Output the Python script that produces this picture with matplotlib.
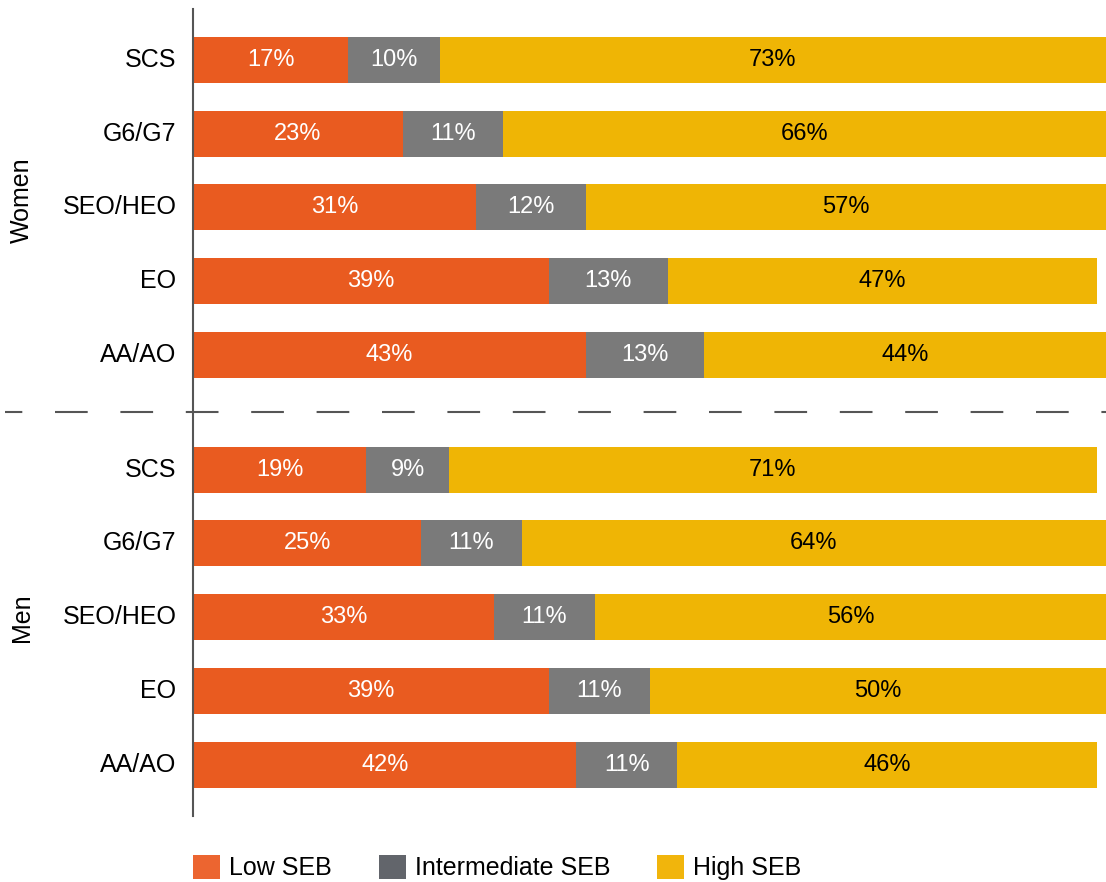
import matplotlib.pyplot as plt
from matplotlib.patches import Patch

plt.rcParams['font.family'] = ['Liberation Sans', 'DejaVu Sans']

# grades, top to bottom within each group
grades = ["SCS", "G6/G7", "SEO/HEO", "EO", "AA/AO"]
groups = ["Women", "Men"]

# share of each grade by socio-economic background (%)
women_low = [17, 23, 31, 39, 43]
women_mid = [10, 11, 12, 13, 13]
women_high = [73, 66, 57, 47, 44]
men_low = [19, 25, 33, 39, 42]
men_mid = [9, 11, 11, 11, 11]
men_high = [71, 64, 56, 50, 46]

series_names = ["Low SEB", "Intermediate SEB", "High SEB"]
bar_colors = ["#E95B20", "#7A7A7A", "#EFB505"]
legend_colors = ["#EC6530", "#62656B", "#F1B50C"]
text_colors = ["white", "white", "black"]

W, H = 1106, 882
fig = plt.figure(figsize=(W / 100, H / 100), dpi=100)
ax = fig.add_axes([193 / W, 1 - 816 / H, 913 / W, (816 - 9) / H])

gap = 5.55
bar_h = 0.623
ypos_w = [i for i in range(len(grades))]
ypos_m = [i + gap for i in range(len(grades))]

rows = [
    (ypos_w, [women_low, women_mid, women_high]),
    (ypos_m, [men_low, men_mid, men_high]),
]

for ypos, parts in rows:
    for r, y in enumerate(ypos):
        left = 0
        for k, vals in enumerate(parts):
            v = vals[r]
            ax.barh(y, v, left=left, height=bar_h, color=bar_colors[k], linewidth=0)
            ax.text(left + v / 2, y, f"{v}%", ha="center", va="center",
                    fontsize=17, color=text_colors[k])
            left += v

ax.set_xlim(0, 100)
ax.set_ylim(ypos_m[-1] + 0.69, -0.687)
ax.set_yticks(ypos_w + ypos_m)
ax.set_yticklabels(grades + grades, fontsize=18, va="center")
ax.tick_params(axis="y", length=0, pad=12)
ax.set_xticks([])
for s in ["top", "right", "bottom"]:
    ax.spines[s].set_visible(False)
ax.spines["left"].set_color("#555555")
ax.spines["left"].set_linewidth(1.5)

# group labels on the far left
ytr = ax.get_yaxis_transform()
ax.text((22 - 193) / 913, 1.9, groups[0], rotation=90, ha="center", va="center",
        fontsize=18, transform=ytr)
ax.text((22 - 193) / 913, 2 + gap, groups[1], rotation=90, ha="center", va="center",
        fontsize=18, transform=ytr)

# dashed separator across the whole width
lw = 1.5
px = 0.72 / lw
sep_y = (4 + gap) / 2
ax.plot([(5 - 193) / 913, 1.0], [sep_y, sep_y], transform=ytr, clip_on=False,
        color="#555555", linewidth=lw,
        linestyle=(15.4 * px, (32.7 * px, 32.7 * px)))

handles = [Patch(facecolor=c, edgecolor="none") for c in legend_colors]
fig.legend(handles, series_names, loc="center left",
           bbox_to_anchor=(193 / W, 1 - 867.5 / H), ncol=3, frameon=False,
           fontsize=18, handlelength=1.08, handleheight=1.08,
           handletextpad=0.36, columnspacing=1.88, borderpad=0, borderaxespad=0)

fig.savefig("out.png", dpi=100)
